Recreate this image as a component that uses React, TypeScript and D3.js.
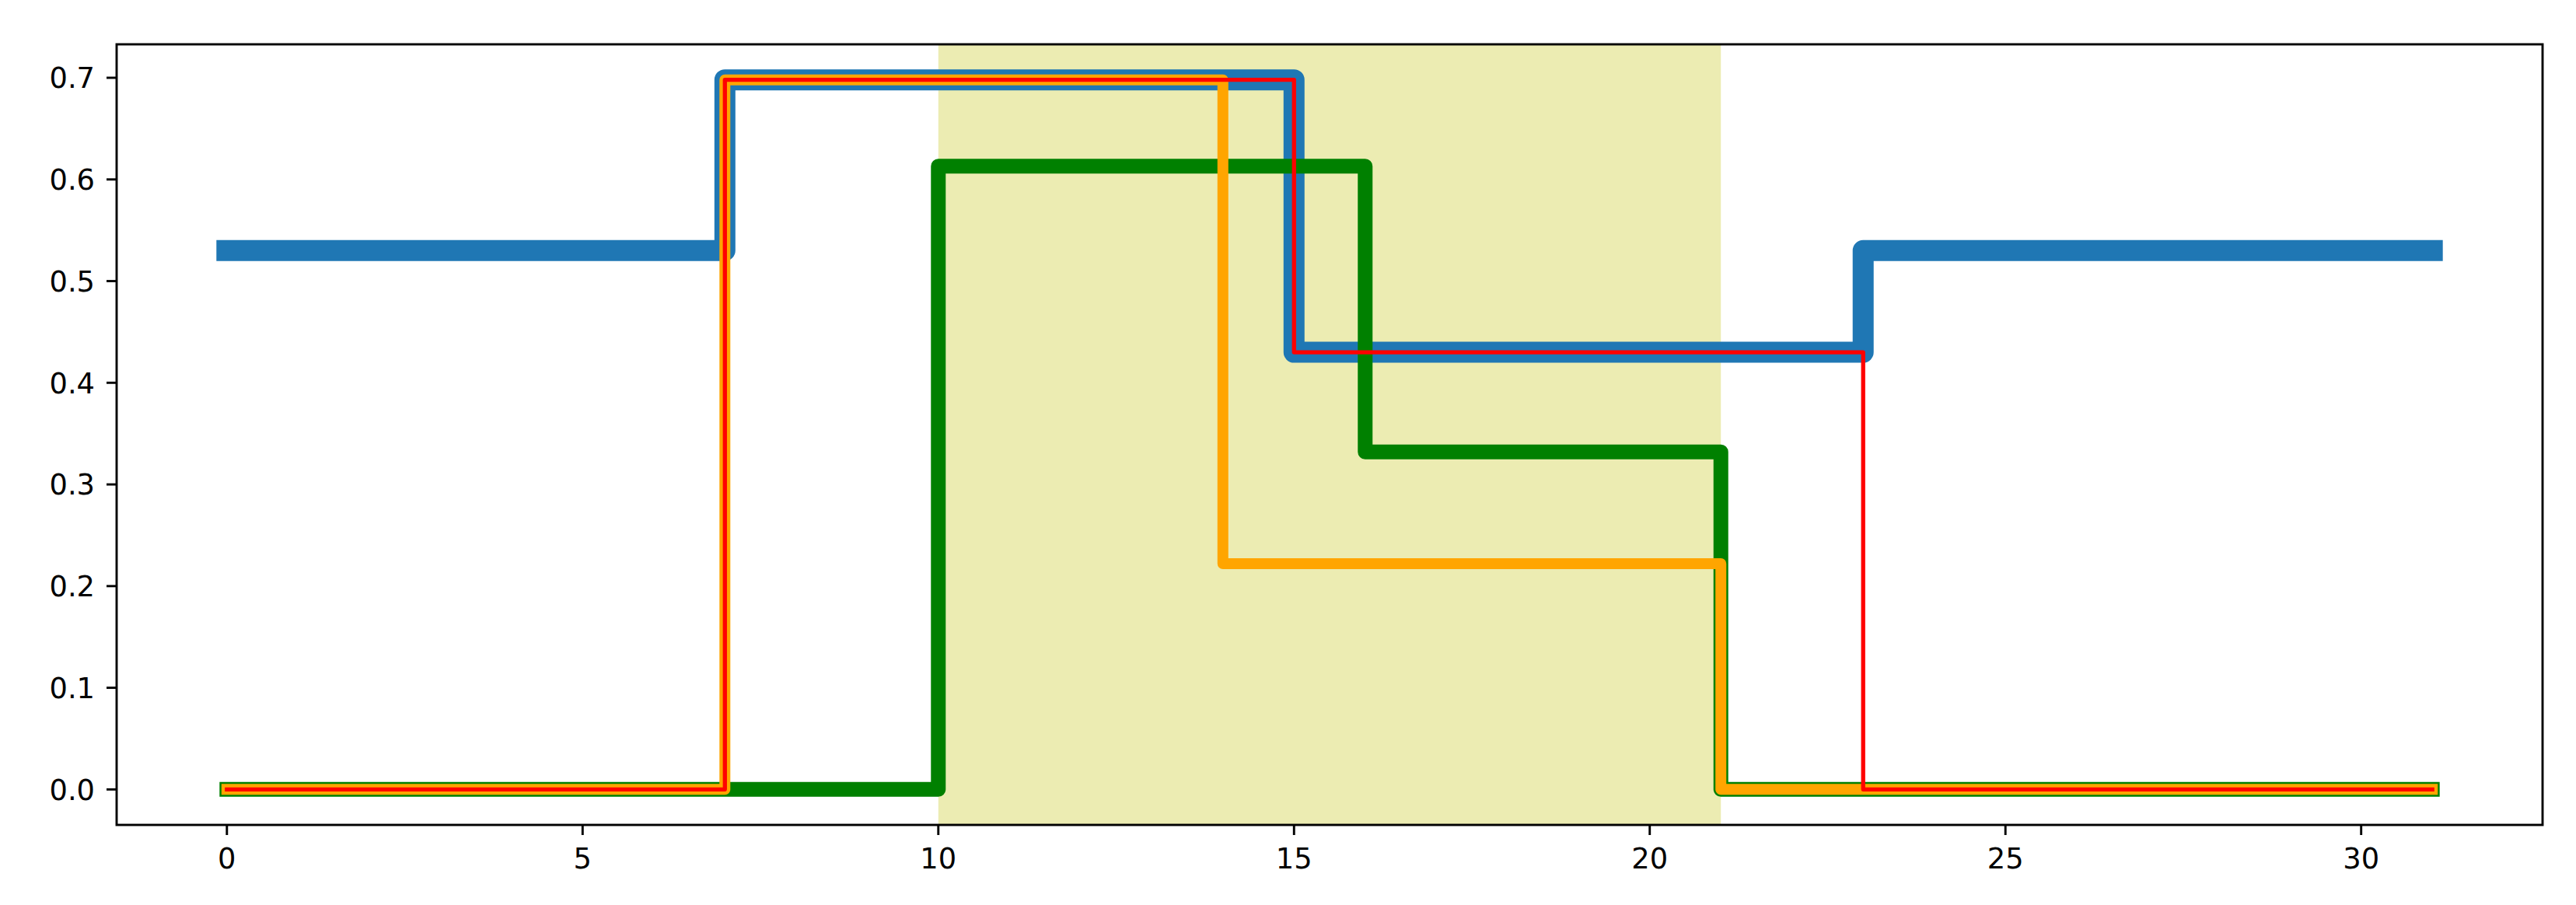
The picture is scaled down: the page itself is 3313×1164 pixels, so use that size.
import React from "react";
import * as d3 from "d3";

// Step series: breakpoints (x) and values held from each breakpoint onward
const blueX = [0, 7, 15, 23, 31];
const blueY = [0.53, 0.698, 0.43, 0.53, 0.53];
const greenX = [0, 10, 16, 21, 31];
const greenY = [0, 0.613, 0.332, 0, 0];
const orangeX = [0, 7, 14, 21, 31];
const orangeY = [0, 0.698, 0.222, 0, 0];
const redX = [0, 7, 15, 23, 31];
const redY = [0, 0.698, 0.43, 0, 0];

const spanStart = 10;
const spanEnd = 21;

const xTicks = [0, 5, 10, 15, 20, 25, 30];
const yTicks = [0.0, 0.1, 0.2, 0.3, 0.4, 0.5, 0.6, 0.7];

const W = 3313;
const H = 1164;
const L = 150, R = 3270, T = 57, B = 1061;

export default function App() {
  const allX = [...blueX, ...greenX, ...orangeX, ...redX];
  const allY = [...blueY, ...greenY, ...orangeY, ...redY];
  const [x0, x1] = d3.extent(allX) as [number, number];
  const [y0, y1] = d3.extent(allY) as [number, number];
  const px = (x1 - x0) * 0.05;
  const py = (y1 - y0) * 0.05;
  const x = d3.scaleLinear().domain([x0 - px, x1 + px]).range([L, R]);
  const y = d3.scaleLinear().domain([y0 - py, y1 + py]).range([B, T]);

  const line = d3
    .line<[number, number]>()
    .x((d) => x(d[0]))
    .y((d) => y(d[1]))
    .curve(d3.curveStepAfter);

  const series = [
    { xs: blueX, ys: blueY, color: "#1f77b4", w: 27 },
    { xs: greenX, ys: greenY, color: "#008000", w: 19 },
    { xs: orangeX, ys: orangeY, color: "#ffa500", w: 14 },
    { xs: redX, ys: redY, color: "#ff0000", w: 5.3 },
  ];

  const font = "'DejaVu Sans', sans-serif";
  const fs = 36.8;

  return (
    <svg
      width={W}
      height={H}
      style={{ position: "absolute", left: 0, top: 0, background: "#fff" }}
    >
      <rect x={0} y={0} width={W} height={H} fill="#fff" />
      <defs>
        <clipPath id="plotclip">
          <rect x={L} y={T} width={R - L} height={B - T} />
        </clipPath>
      </defs>
      <rect
        x={x(spanStart)}
        y={T}
        width={x(spanEnd) - x(spanStart)}
        height={B - T}
        fill="#bfbf00"
        fillOpacity={0.3}
      />
      <g clipPath="url(#plotclip)">
        {series.map((s, i) => (
          <path
            key={i}
            d={line(s.xs.map((v, j) => [v, s.ys[j]] as [number, number])) || ""}
            fill="none"
            stroke={s.color}
            strokeWidth={s.w}
            strokeLinecap="square"
            strokeLinejoin="round"
          />
        ))}
      </g>
      <rect
        x={L}
        y={T}
        width={R - L}
        height={B - T}
        fill="none"
        stroke="#000"
        strokeWidth={2.9}
      />
      {xTicks.map((t) => (
        <g key={"x" + t}>
          <line x1={x(t)} x2={x(t)} y1={B} y2={B + 13} stroke="#000" strokeWidth={2.9} />
          <text
            x={x(t)}
            y={B + 56}
            textAnchor="middle"
            fontFamily={font}
            fontSize={fs}
            fill="#000"
          >
            {t}
          </text>
        </g>
      ))}
      {yTicks.map((t) => (
        <g key={"y" + t}>
          <line x1={L - 13} x2={L} y1={y(t)} y2={y(t)} stroke="#000" strokeWidth={2.9} />
          <text
            x={L - 28}
            y={y(t) + 13.4}
            textAnchor="end"
            fontFamily={font}
            fontSize={fs}
            fill="#000"
          >
            {t.toFixed(1)}
          </text>
        </g>
      ))}
    </svg>
  );
}
